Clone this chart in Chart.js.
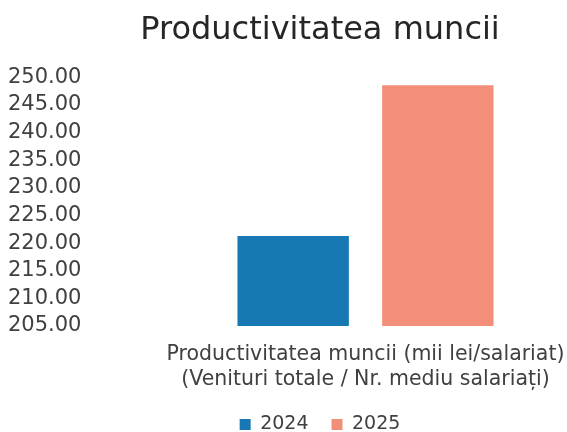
<!DOCTYPE html>
<html>
<head>
<meta charset="utf-8">
<script src="https://cdn.jsdelivr.net/npm/chart.js@4"></script>
<style>
  html, body { margin: 0; padding: 0; background: #fff; }
  #wrap { width: 567px; height: 432px; }
</style>
</head>
<body>
<div id="wrap"><canvas id="productivityChart"></canvas></div>
<script>
// data
const categories = [['Productivitatea muncii (mii lei/salariat)', '(Venituri totale / Nr. mediu salariați)']];
const years = ['2024', '2025'];
const values2024 = [221.3];
const values2025 = [248.6];

const fontFamily = "'DejaVu Sans', sans-serif";

let ctx = document.getElementById('productivityChart').getContext('2d');
let myBarChart = new Chart(ctx, {
    type: 'bar',
    data: {
        labels: categories,
        datasets: [{
            label: years[0],
            data: values2024,
            backgroundColor: '#1778b3',
            borderWidth: 0
        },
        {
            label: years[1],
            data: values2025,
            backgroundColor: '#f38f79',
            borderWidth: 0
        }]
    },
    options: {
        responsive: true,
        maintainAspectRatio: false,
        animation: false,
        layout: {
            // left padding shifts title + legend centre to the right like the original
            padding: { left: 79, right: 6, top: 5, bottom: -12 }
        },
        datasets: {
            bar: {
                categoryPercentage: 0.74,
                barPercentage: 0.77
            }
        },
        scales: {
            x: {
                grid: { display: false, drawTicks: false },
                border: { display: false },
                afterFit: function (scale) {
                    scale.height -= 16;  // trim the empty space below the two-line label
                    // the long label may run past the plot edge, don't shrink the plot for it
                    scale.paddingLeft = 0;
                    scale.paddingRight = 0;
                },
                ticks: {
                    color: '#404040',
                    padding: 16,
                    maxRotation: 0,
                    minRotation: 0,
                    autoSkip: false,
                    font: { family: fontFamily, size: 20.5, lineHeight: 1.22 }
                }
            },
            y: {
                min: 205,
                max: 250,
                grid: { display: false, drawTicks: false },
                border: { display: false },
                afterFit: function (scale) {
                    scale.width = 91;
                    scale.paddingTop = 12;
                    scale.paddingBottom = 12;
                },
                ticks: {
                    stepSize: 5,
                    autoSkip: false,
                    // mirrored with negative padding so the labels sit far left of the bars
                    mirror: true,
                    crossAlign: 'near',
                    padding: -162,
                    color: '#404040',
                    font: { family: fontFamily, size: 21 },
                    callback: function (value) {
                        return value.toFixed(2);
                    }
                }
            }
        },
        plugins: {
            title: {
                display: true,
                text: 'Productivitatea muncii',
                color: '#262626',
                font: { family: fontFamily, size: 32, weight: 'normal' },
                padding: { top: 6, bottom: 28 }
            },
            legend: {
                position: 'bottom',
                labels: {
                    color: '#404040',
                    boxWidth: 11,
                    boxHeight: 11,
                    padding: 23,
                    font: { family: fontFamily, size: 19 }
                }
            },
            tooltip: { enabled: false }
        }
    }
});
</script>
</body>
</html>
